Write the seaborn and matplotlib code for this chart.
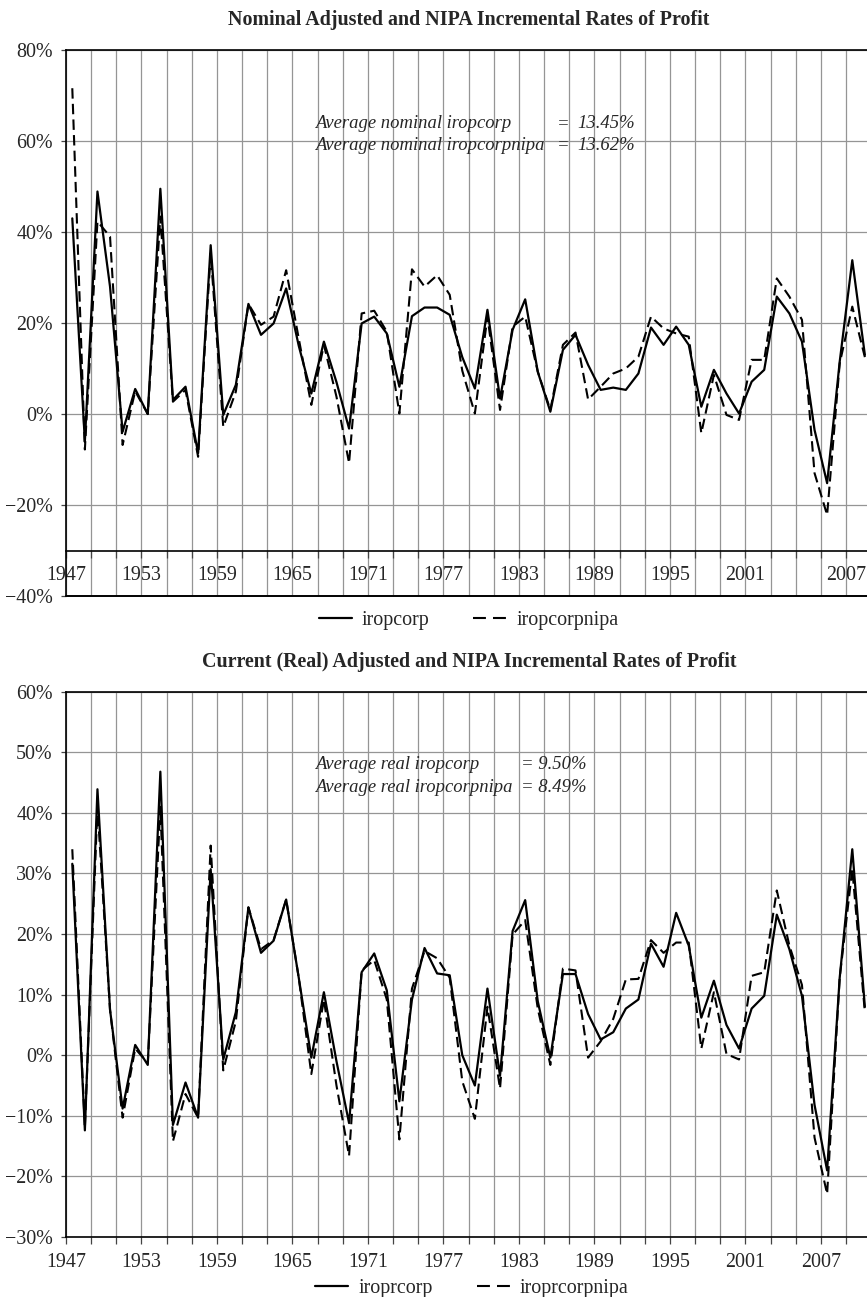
import numpy as np
import pandas as pd
import matplotlib
matplotlib.use("Agg")
import matplotlib.pyplot as plt
from matplotlib.lines import Line2D
import seaborn as sns

# data, in percent, one value per year 1947-2010
years = list(range(1947, 2011))

nominal_corp = [43.0, -6.0, 48.9, 28.0, -3.9, 5.5, 0.0, 49.5, 3.1, 6.0,
                -8.6, 37.1, -0.2, 6.4, 24.2, 17.4, 19.9, 27.6, 15.0, 4.5,
                15.9, 7.0, -3.2, 19.9, 21.4, 17.7, 6.0, 21.5, 23.4, 23.4,
                21.8, 12.5, 5.6, 22.9, 3.4, 18.5, 25.2, 9.3, 0.5, 14.1,
                17.4, 10.8, 5.3, 5.8, 5.3, 8.9, 19.0, 15.2, 19.2, 15.2,
                1.6, 9.7, 4.5, 0.1, 7.1, 9.7, 25.8, 22.1, 15.9, -3.5,
                -15.2, 11.5, 33.8, 13.0]
nominal_nipa = [71.6, -7.8, 42.3, 39.0, -6.8, 5.0, 0.0, 43.4, 2.7, 5.3,
                -9.4, 35.3, -2.8, 4.9, 24.2, 19.6, 21.4, 31.6, 16.6, 2.0,
                15.2, 3.8, -10.8, 22.1, 22.7, 18.1, 0.1, 31.8, 28.0, 30.5,
                26.2, 9.5, 0.1, 21.4, 0.9, 19.2, 21.4, 9.3, 0.9, 15.2,
                17.9, 3.2, 6.0, 8.9, 10.0, 12.6, 21.4, 18.8, 17.7, 17.0,
                -4.2, 8.6, -0.2, -1.3, 11.9, 11.9, 29.8, 25.8, 20.7, -13.0,
                -22.2, 11.1, 23.6, 12.5]
real_corp = [31.6, -12.4, 43.9, 7.5, -8.8, 1.7, -1.6, 46.8, -11.5, -4.5,
             -10.3, 30.7, -0.7, 7.1, 24.4, 16.9, 18.9, 25.7, 12.8, -0.4,
             10.4, -1.0, -11.2, 13.7, 16.8, 10.7, -7.6, 9.2, 17.7, 13.5,
             13.2, 0.0, -5.0, 11.0, -3.4, 20.5, 25.6, 8.9, -0.4, 13.4,
             13.4, 6.8, 2.6, 3.8, 7.7, 9.2, 18.4, 14.6, 23.5, 18.1,
             6.2, 12.3, 5.0, 1.1, 7.7, 9.8, 23.2, 17.5, 9.8, -8.2,
             -19.0, 12.8, 34.0, 8.0]
real_nipa = [34.0, -12.0, 41.0, 7.5, -10.3, 1.1, -1.3, 41.0, -14.2, -6.4,
             -10.3, 34.6, -2.5, 5.6, 24.4, 17.5, 19.0, 25.7, 12.8, -3.1,
             9.2, -5.0, -16.6, 14.0, 15.7, 9.2, -13.9, 11.0, 17.2, 16.0,
             12.8, -4.3, -10.5, 8.0, -5.5, 19.9, 22.3, 7.7, -1.6, 14.3,
             14.0, -0.4, 2.3, 6.0, 12.5, 12.6, 19.0, 16.9, 18.6, 18.6,
             1.1, 10.4, 0.2, -0.7, 13.1, 13.7, 27.2, 18.1, 11.6, -13.6,
             -22.9, 12.8, 30.7, 7.1]

top_labels = ["1947", "1953", "1959", "1965", "1971", "1977", "1983",
              "1989", "1995", "2001", "2007"]
bottom_labels = top_labels

sns.set_style("white")
plt.rcParams['font.family'] = ['Liberation Serif', 'DejaVu Serif']
plt.rcParams['axes.unicode_minus'] = True

FS = 14.4
NOTE_FS = 13.4
GRID = '#959595'
DASH = (5, 2.5)


def pct(v):
    s = "%d%%" % abs(v)
    return ("\u2212" + s) if v < 0 else s


def setup_axis(ax, ylo, yhi, ystep, label_pos, labels, xaxis_at):
    grid_x = [1946.5 + 2 * k for k in range(32)]
    ax.set_xlim(1946.5, 2010.17)
    ax.set_ylim(ylo, yhi)
    ax.set_xticks(grid_x)
    lab = dict(zip(label_pos, labels))
    ax.set_xticklabels([lab.get(g, "") for g in grid_x])
    yt = list(range(ylo, yhi + 1, ystep))
    ax.set_yticks(yt)
    ax.set_yticklabels([pct(v) for v in yt])
    ax.grid(True, color=GRID, lw=0.9)
    ax.set_axisbelow(True)
    for s in ['left', 'top', 'bottom']:
        ax.spines[s].set_visible(True)
        ax.spines[s].set_color('black')
        ax.spines[s].set_linewidth(1.2)
    ax.spines['right'].set_visible(False)
    ax.spines['bottom'].set_position(('data', xaxis_at))
    ax.tick_params(axis='x', direction='out', length=5, width=0.9,
                   color='#444444', pad=6.5, labelsize=FS, bottom=True)
    ax.tick_params(axis='y', direction='out', length=3.6, width=0.9,
                   color='#444444', pad=6, labelsize=FS, left=True)
    ax.set_xlabel("")
    ax.set_ylabel("")


def legend_handles():
    solid = Line2D([], [], color='black', lw=1.6)
    dashed = Line2D([], [], color='black', lw=1.5, dashes=(6.2, 3.4))
    return [solid, dashed]


fig = plt.figure(figsize=(8.67, 12.97), dpi=100)
ax1 = fig.add_axes([66 / 867, 1 - 596 / 1297, 801 / 867, 546 / 1297])
ax2 = fig.add_axes([66 / 867, 1 - 1237 / 1297, 801 / 867, 545.3 / 1297])

# ---- top panel: nominal
sns.lineplot(x=years, y=nominal_corp, ax=ax1, color='black', lw=1.6,
             legend=False)
sns.lineplot(x=years, y=nominal_nipa, ax=ax1, color='black', lw=1.5,
             legend=False)
ax1.lines[1].set_dashes(DASH)
top_pos = [1946.5 + 6 * k for k in range(10)] + [2008.5]
setup_axis(ax1, -40, 80, 20, top_pos, top_labels, -30)
ax1.axhline(-40, color='black', lw=1.4, clip_on=False)

for y, name, val in [(0.866, "Average nominal iropcorp", "13.45%"),
                     (0.826, "Average nominal iropcorpnipa", "13.62%")]:
    ax1.text(0.311, y, name, transform=ax1.transAxes, style='italic',
             fontsize=NOTE_FS, va='center', ha='left')
    ax1.text(0.613, y, "=", transform=ax1.transAxes, style='italic',
             fontsize=NOTE_FS, va='center', ha='left')
    ax1.text(0.638, y, val, transform=ax1.transAxes, style='italic',
             fontsize=NOTE_FS, va='center', ha='left')

fig.text(469 / 867, 1 - 20 / 1297,
         "Nominal Adjusted and NIPA Incremental Rates of Profit",
         ha='center', va='center', fontsize=FS, fontweight='bold')
fig.legend(handles=legend_handles(), labels=['iropcorp', 'iropcorpnipa'],
           loc='center', bbox_to_anchor=(468.5 / 867, 1 - 620 / 1297),
           ncol=2, frameon=False, fontsize=FS, handlelength=1.65,
           handletextpad=0.5, columnspacing=2.2)

# ---- bottom panel: real
sns.lineplot(x=years, y=real_corp, ax=ax2, color='black', lw=1.6,
             legend=False)
sns.lineplot(x=years, y=real_nipa, ax=ax2, color='black', lw=1.5,
             legend=False)
ax2.lines[1].set_dashes(DASH)
bot_pos = [1946.5 + 6 * k for k in range(11)]
setup_axis(ax2, -30, 60, 10, bot_pos, bottom_labels, -30)

for y, name, val in [(0.867, "Average real iropcorp", "= 9.50%"),
                     (0.825, "Average real iropcorpnipa", "= 8.49%")]:
    ax2.text(0.311, y, name, transform=ax2.transAxes, style='italic',
             fontsize=NOTE_FS, va='center', ha='left')
    ax2.text(0.568, y, val, transform=ax2.transAxes, style='italic',
             fontsize=NOTE_FS, va='center', ha='left')

fig.text(469 / 867, 1 - 662 / 1297,
         "Current (Real) Adjusted and NIPA Incremental Rates of Profit",
         ha='center', va='center', fontsize=FS, fontweight='bold')
fig.legend(handles=legend_handles(), labels=['iroprcorp', 'iroprcorpnipa'],
           loc='center', bbox_to_anchor=(472 / 867, 1 - 1288 / 1297),
           ncol=2, frameon=False, fontsize=FS, handlelength=1.65,
           handletextpad=0.5, columnspacing=2.2)

fig.savefig("out.png", dpi=100)
